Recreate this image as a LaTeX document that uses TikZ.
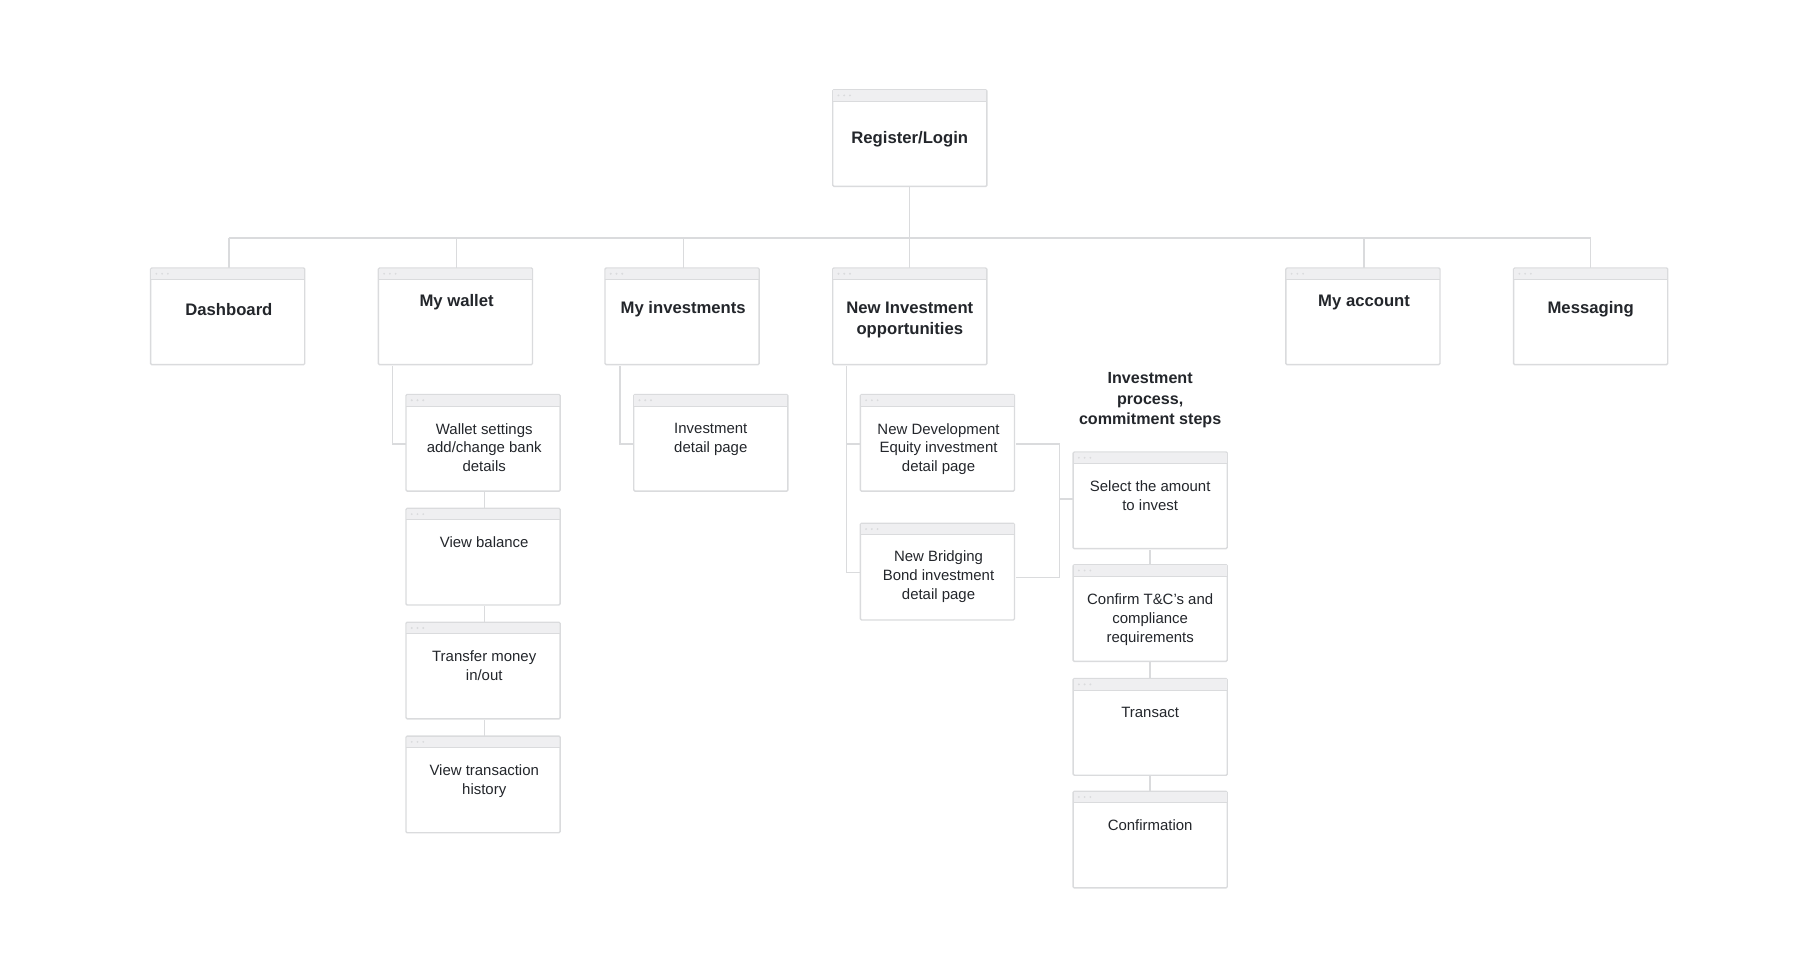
\documentclass[tikz,border=0pt]{standalone}
\usepackage{fontspec}
\setmainfont{Liberation Sans}
\definecolor{ln}{HTML}{DADBDD}
\definecolor{hd}{HTML}{EFEFF1}
\definecolor{tx}{HTML}{23262B}
\begin{document}
\begin{tikzpicture}[x=1pt,y=-1pt,line width=1.2pt]
\useasboundingbox (0,0) rectangle (1565,834);
\tikzset{
  win/.style={draw=ln,fill=white,minimum width=134pt,minimum height=84pt,anchor=north west,inner sep=0pt,outer sep=0pt,rounded corners=1pt},
  conn/.style={draw=ln,line width=1.2pt},
  ttl/.style={font=\bfseries\fontsize{14.5}{18}\selectfont,text=tx,align=center},
  bd/.style={font=\fontsize{13}{16.5}\selectfont,text=tx,align=center,anchor=north}
}
\newcommand{\mywin}[4]{%
  \node[win] (#1) at (#2,#3) {};
  \fill[hd] ([xshift=0.6pt,yshift=-0.6pt]#1.north west) rectangle ([xshift=-0.6pt,yshift=-10pt]#1.north east);
  \draw[ln,line width=0.8pt] ([yshift=-10pt]#1.north west) -- ([yshift=-10pt]#1.north east);
  \foreach \k in {0,1,2}{\fill[ln] ([xshift=5pt+\k*5pt,yshift=-5pt]#1.north west) circle (0.9pt);}
  #4
}
\coordinate (hL) at (199,207); \coordinate (hR) at (1383,207);
\draw[conn] (791,163) -- (791,207);
\draw[conn] (hL) -- (hR);
\foreach \xx in {199,397,594,791,1186,1383}{\draw[conn] (\xx,207) -- (\xx,233);}
\draw[conn] (341,318) -- (341,386) -- (353,386);
\draw[conn] (421,428) -- (421,442);
\draw[conn] (421,527) -- (421,541);
\draw[conn] (421,626) -- (421,640);
\draw[conn] (539,318) -- (539,386) -- (551,386);
\draw[conn] (736,318) -- (736,498) -- (748,498);
\draw[conn] (736,386) -- (748,386);
\draw[conn] (883,386) -- (921,386) -- (921,502) -- (883,502);
\draw[conn] (921,434) -- (933,434);
\draw[conn] (1000,478) -- (1000,491);
\draw[conn] (1000,576) -- (1000,590);
\draw[conn] (1000,675) -- (1000,688);

\mywin{reg}{724}{78}{\node[ttl] at (791,121) {Register/Login};}
\mywin{dash}{131}{233}{\node[ttl] at (199,269) {Dashboard};}
\mywin{wal}{329}{233}{\node[ttl] at (397,263) {My wallet};}
\mywin{inv}{526}{233}{\node[ttl] at (594,269) {My investments};}
\mywin{new}{724}{233}{\node[ttl] at (791,278) {New Investment\\opportunities};}
\mywin{acc}{1118}{233}{\node[ttl] at (1186,263) {My account};}
\mywin{msg}{1316}{233}{\node[ttl] at (1383,269) {Messaging};}

\mywin{w1}{353}{343}{\node[bd] at (421,364) {Wallet settings\\add/change bank\\details};}
\mywin{w2}{353}{442}{\node[bd] at (421,463) {View balance};}
\mywin{w3}{353}{541}{\node[bd] at (421,562) {Transfer money\\in/out};}
\mywin{w4}{353}{640}{\node[bd] at (421,661) {View transaction\\history};}
\mywin{i1}{551}{343}{\node[bd] at (618,364) {Investment\\detail page};}
\mywin{n1}{748}{343}{\node[bd] at (816,364) {New Development\\Equity investment\\detail page};}
\mywin{n2}{748}{455}{\node[bd] at (816,475) {New Bridging\\Bond investment\\detail page};}

\node[ttl,font=\bfseries\fontsize{14}{18}\selectfont] (ptitle) at (1000,348) {Investment\\process,\\commitment steps};
\mywin{p1}{933}{393}{\node[bd] at (1000,414) {Select the amount\\to invest};}
\mywin{p2}{933}{491}{\node[bd] at (1000,512) {Confirm T\&C's and\\compliance\\requirements};}
\mywin{p3}{933}{590}{\node[bd] at (1000,611) {Transact};}
\mywin{p4}{933}{688}{\node[bd] at (1000,709) {Confirmation};}
\end{tikzpicture}
\end{document}
